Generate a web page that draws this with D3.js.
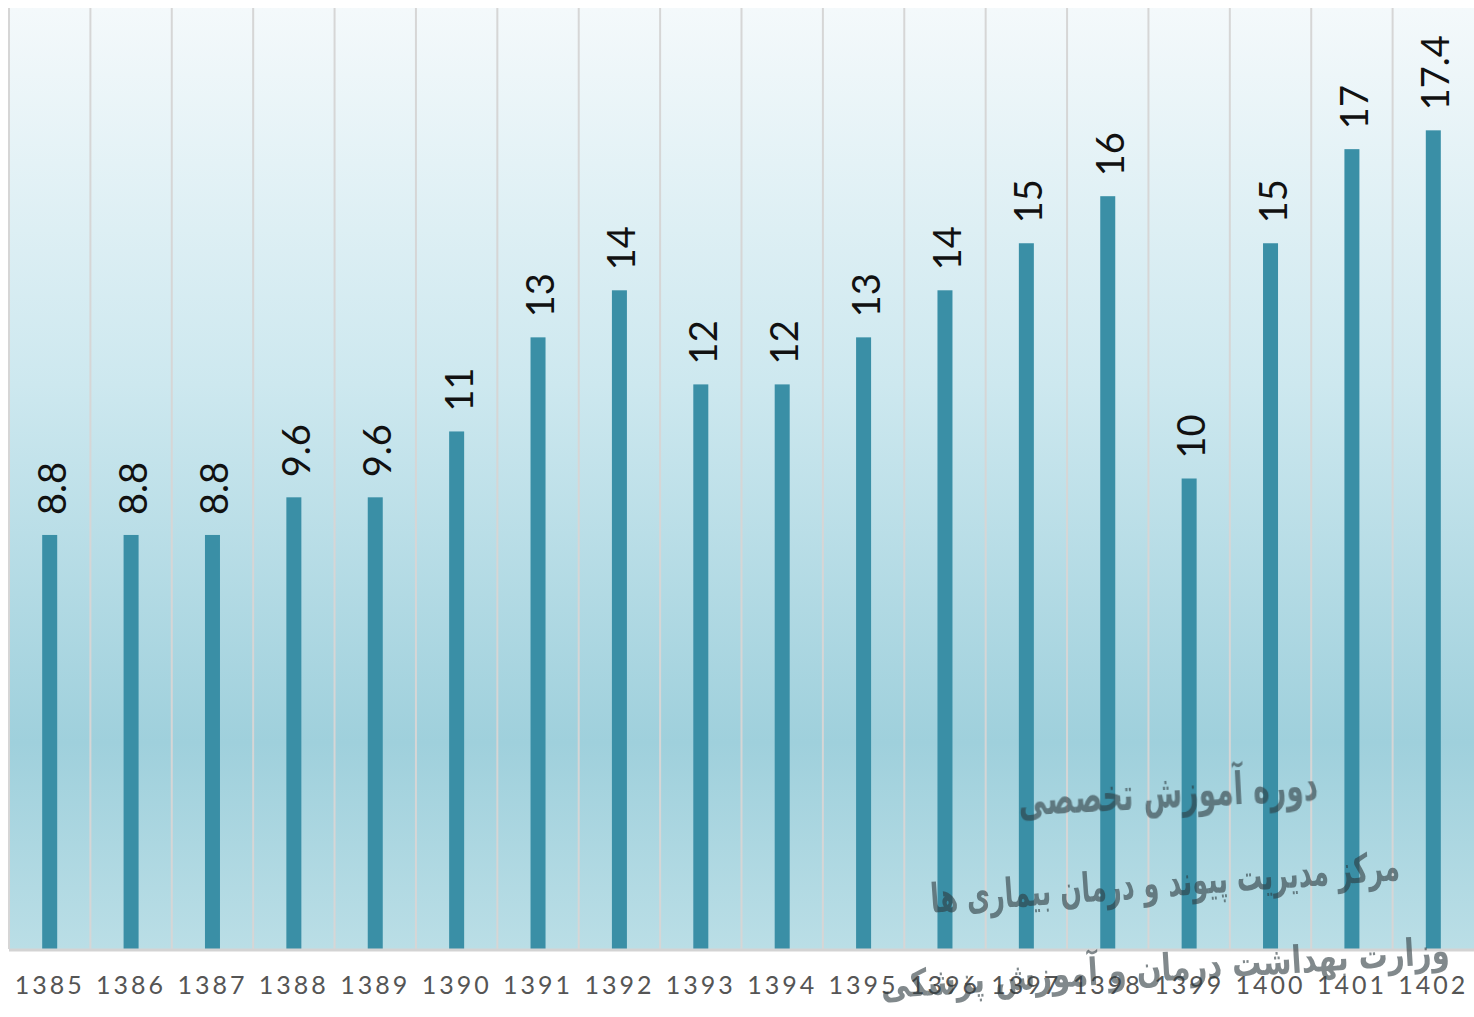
<!DOCTYPE html>
<html><head><meta charset="utf-8">
<script src="https://cdn.jsdelivr.net/npm/d3@7"></script>
<style>body{margin:0;background:#fff}svg{display:block}</style>
</head><body>
<svg id="c" width="1474" height="1017"></svg>
<script>
const years = ["1385","1386","1387","1388","1389","1390","1391","1392","1393","1394","1395","1396","1397","1398","1399","1400","1401","1402"];
const values = [8.8,8.8,8.8,9.6,9.6,11,13,14,12,12,13,14,15,16,10,15,17,17.4];
const valueLabels = ["8.8","8.8","8.8","9.6","9.6","11","13","14","12","12","13","14","15","16","10","15","17","17.4"];
const watermarkLines = ["دوره آموزش تخصصی","مرکز مدیریت پیوند و درمان بیماری ها","وزارت بهداشت درمان و آموزش پزشکی"];

const svg = d3.select("#c");
const L = 9, R = 1474, T = 8, B = 949;
const x = d3.scaleBand().domain(years).range([L, R]).padding(0);
const y = d3.scaleLinear().domain([0, 20]).range([B, T]);

const defs = svg.append("defs");
const g = defs.append("linearGradient").attr("id","bg").attr("x1",0).attr("y1",0).attr("x2",0).attr("y2",1);
g.append("stop").attr("offset","0%").attr("stop-color","#f4f9fb");
g.append("stop").attr("offset","40%").attr("stop-color","#cde8ef");
g.append("stop").attr("offset","78%").attr("stop-color","#9fd0dc");
g.append("stop").attr("offset","100%").attr("stop-color","#badee6");

svg.append("rect").attr("x",L).attr("y",T).attr("width",R-L).attr("height",B-T).attr("fill","url(#bg)");

// vertical gridlines
svg.append("g").selectAll("line").data(years).join("line")
  .attr("x1",d=>x(d)).attr("x2",d=>x(d)).attr("y1",T).attr("y2",B)
  .attr("stroke","#d6d6d6").attr("stroke-width",2);

// bars
const bw = 15;
svg.append("g").selectAll("rect").data(values).join("rect")
  .attr("x",(d,i)=>x(years[i])+x.bandwidth()/2-bw/2)
  .attr("width",bw)
  .attr("y",d=>y(d))
  .attr("height",d=>B-y(d))
  .attr("fill","#3a8fa6");

// baseline
svg.append("line").attr("x1",L).attr("x2",R).attr("y1",B+1).attr("y2",B+1)
  .attr("stroke","#d3d3d3").attr("stroke-width",3);

// value labels (rotated)
svg.append("g").selectAll("text").data(values).join("text")
  .attr("transform",(d,i)=>`translate(${x(years[i])+x.bandwidth()/2+1},${y(d)-20}) rotate(-90)`)
  .attr("text-anchor","start").attr("dominant-baseline","central")
  .attr("font-family","Lato, 'Open Sans', sans-serif").attr("font-size",38)
  .attr("fill","#111")
  .text((d,i)=>valueLabels[i]);

// x axis labels
const xAxis = d3.axisBottom(x).tickSize(0).tickPadding(0);
const ax = svg.append("g").attr("transform",`translate(0,${B})`).call(xAxis);
ax.select(".domain").remove();
ax.selectAll("text").attr("y",36).attr("dy","0.35em")
  .attr("font-family","Lato, 'Open Sans', sans-serif").attr("font-size",25)
  .attr("letter-spacing","3px").attr("fill","#555");

// watermark
const wm = svg.append("g").attr("fill","#2e3b40").attr("opacity",0.6)
  .attr("font-family","'DejaVu Sans', sans-serif").attr("font-weight","bold").attr("direction","rtl");
const wmPos = [{cx:1168,cy:792,w:300,rot:-3,sy:1.6},{cx:1165,cy:882,w:470,rot:-4,sy:1.6},{cx:1165,cy:968,w:570,rot:-3.5,sy:1.3}];
wm.selectAll("text").data(watermarkLines).join("text")
  .attr("transform",(d,i)=>`translate(${wmPos[i].cx},${wmPos[i].cy}) rotate(${wmPos[i].rot}) scale(1,${wmPos[i].sy})`)
  .attr("text-anchor","middle").attr("dominant-baseline","central")
  .attr("font-size",40)
  .text(d=>d)
  .each(function(d,i){
    const len = this.getComputedTextLength();
    d3.select(this).attr("font-size", 40*wmPos[i].w/len);
  });
</script>
</body></html>
